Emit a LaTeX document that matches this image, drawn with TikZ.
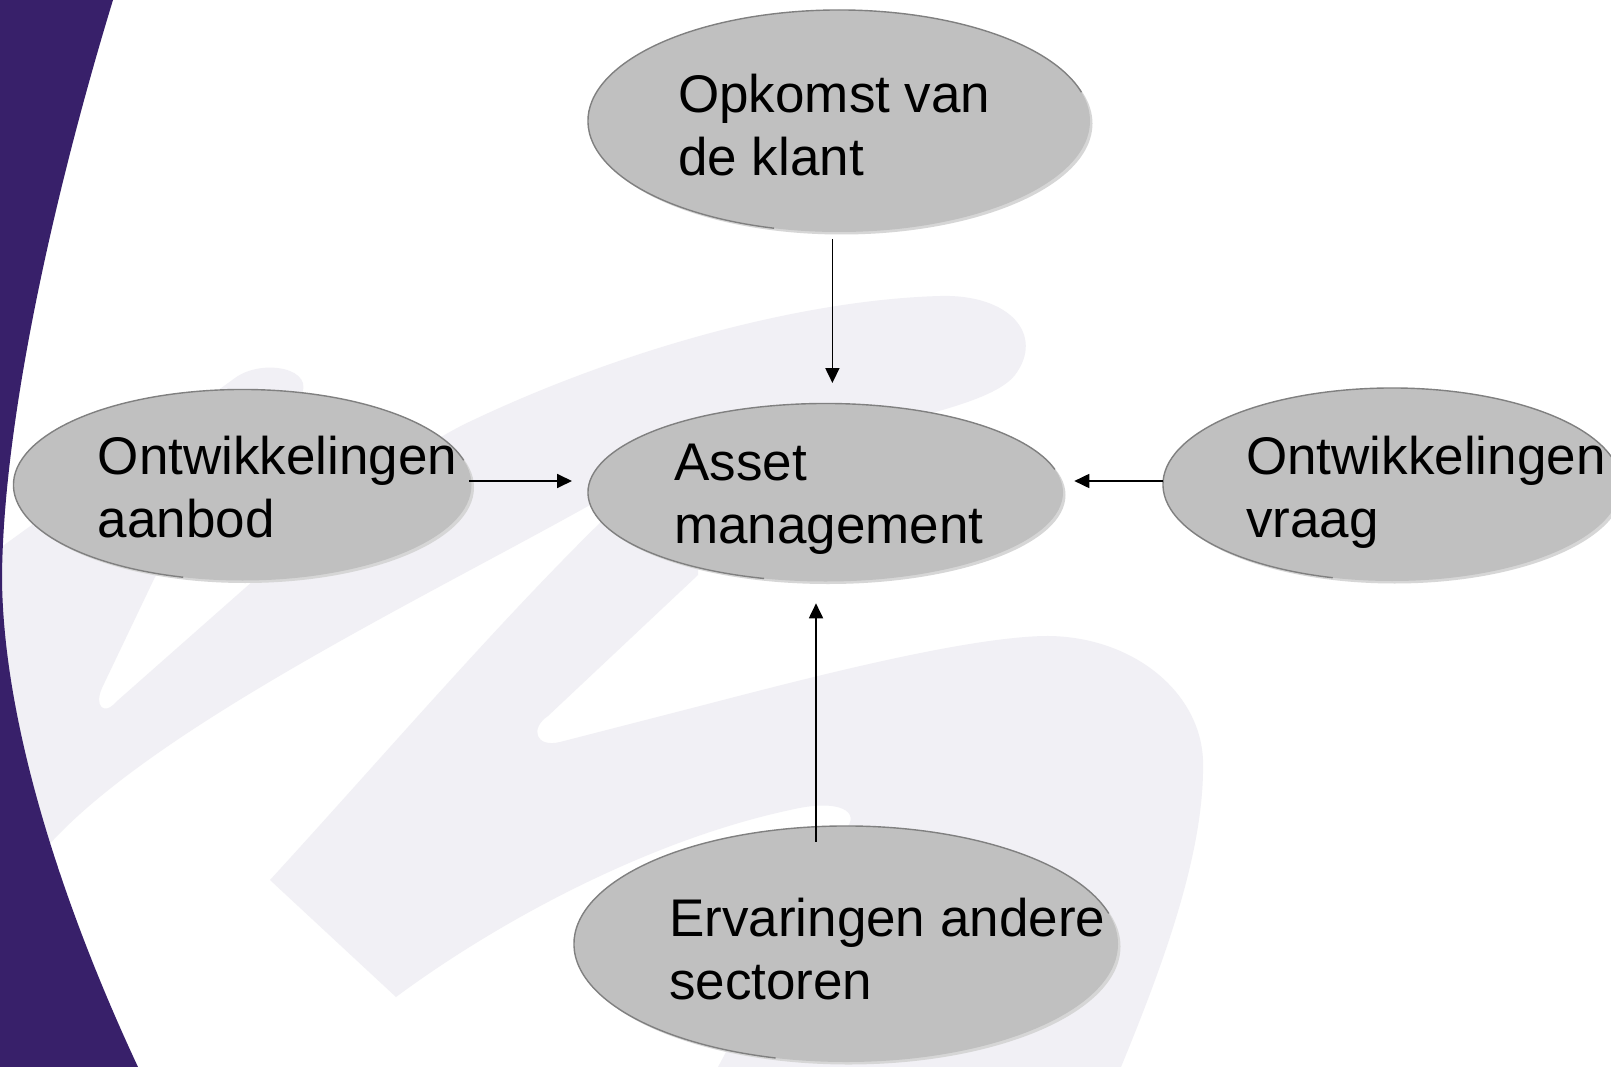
\documentclass[tikz,border=0pt]{standalone}
\usepackage{fontspec}
\setmainfont{Liberation Sans}
\usetikzlibrary{arrows.meta,shapes.geometric,shadows}
\definecolor{deeppurple}{RGB}{56,32,106}
\definecolor{wmark}{RGB}{241,240,245}
\definecolor{bubfill}{RGB}{192,192,192}
\definecolor{bubrim}{RGB}{214,214,214}
\definecolor{bubedge}{RGB}{128,128,128}
\newcommand\duoline[2]{\vtop{\hbox{#1}\hbox{#2}}}
\newcommand\rimarc[3]{\draw[edgeline] ([shift={(15:#2 and #3)}]#1.center) arc[start angle=15,end angle=255,x radius=#2,y radius=#3];}
\begin{document}
\begin{tikzpicture}[x=1pt,y=-1pt,
  bub/.style={ellipse, fill=bubfill, inner sep=0pt, outer sep=0pt,
    drop shadow={shadow xshift=2.5pt,shadow yshift=-2.5pt,fill=bubrim,opacity=1}},
  lbl/.style={anchor=base west, inner sep=0pt, font=\fontsize{53}{63}\selectfont, text=black},
  arr/.style={line width=1.8pt, -{Triangle[length=15pt,width=14pt]}},
  edgeline/.style={draw=bubedge, line width=1.4pt}]
\useasboundingbox (0,0) rectangle (1611,1067);
\fill[white] (0,0) rectangle (1611,1067);
% watermark swooshes
\fill[wmark] (0,548) -- (235,378) .. controls (262,358) and (318,368) .. (300,398) -- (155,577) -- (102,688) .. controls (94,706) and (104,716) .. (116,702) -- (253,581) .. controls (330,520) and (400,455) .. (469,422) .. controls (620,350) and (800,300) .. (940,296) .. controls (1010,294) and (1045,335) .. (1015,375) .. controls (995,400) and (930,415) .. (800,445) -- (590,505) .. controls (420,600) and (150,730) .. (46,848) -- (0,872) -- cycle;
\fill[wmark] (700,480) -- (608,515) .. controls (500,620) and (380,760) .. (270,880) -- (396,997) .. controls (500,920) and (650,840) .. (790,810) .. controls (840,798) and (862,812) .. (845,830) -- (718,1067) -- (1121,1067) .. controls (1165,960) and (1205,850) .. (1203,760) .. controls (1200,690) and (1130,635) .. (1044,636) .. controls (960,638) and (800,680) .. (700,706) -- (560,742) .. controls (535,748) and (530,728) .. (548,716) -- (698,575) -- cycle;
% purple side band
\fill[deeppurple] (0,0) -- (113,0) .. controls (55,190) and (3,420) .. (2,578) .. controls (3,720) and (60,900) .. (138,1067) -- (0,1067) -- cycle;
% bubbles
\node[bub, minimum width=502pt, minimum height=222pt] (top) at (839,121) {};
\node[bub, minimum width=475pt, minimum height=178pt] (asset) at (825.5,492.5) {};
\node[bub, minimum width=458pt, minimum height=191pt] (left) at (242.5,485) {};
\node[bub, minimum width=458pt, minimum height=193pt] (right) at (1392,484.5) {};
\node[bub, minimum width=544pt, minimum height=236pt] (bottom) at (846,944) {};
\rimarc{top}{251pt}{111pt}
\rimarc{asset}{237.5pt}{89pt}
\rimarc{left}{229pt}{95.5pt}
\rimarc{right}{229pt}{96.5pt}
\rimarc{bottom}{272pt}{118pt}
% labels
\node[lbl] (ttop) at (678,113) {\duoline{Opkomst van}{de klant}};
\node[lbl] (tasset) at (674,480.5) {\duoline{Asset}{management}};
\node[lbl] (tleft) at (97.6,474.5) {\duoline{Ontwikkelingen}{aanbod}};
\node[lbl] (tright) at (1246,474) {\duoline{Ontwikkelingen}{vraag}};
\node[lbl] (tbottom) at (669,936) {\duoline{Ervaringen andere}{sectoren}};
% connectors
\draw[arr] ([xshift=-6.6pt,yshift=-7pt]top.south) -- ([xshift=6.9pt,yshift=20.5pt]asset.north);
\draw[arr] ([xshift=-2.5pt,yshift=4pt]left.east) -- ([xshift=-16pt,yshift=11.5pt]asset.west);
\draw[arr] ([yshift=3.5pt]right.west) -- ([xshift=11.3pt,yshift=11.5pt]asset.east);
\draw[arr] ([xshift=-30pt,yshift=-15.5pt]bottom.north) -- ([xshift=-9.5pt,yshift=-21.8pt]asset.south);
\end{tikzpicture}
\end{document}
